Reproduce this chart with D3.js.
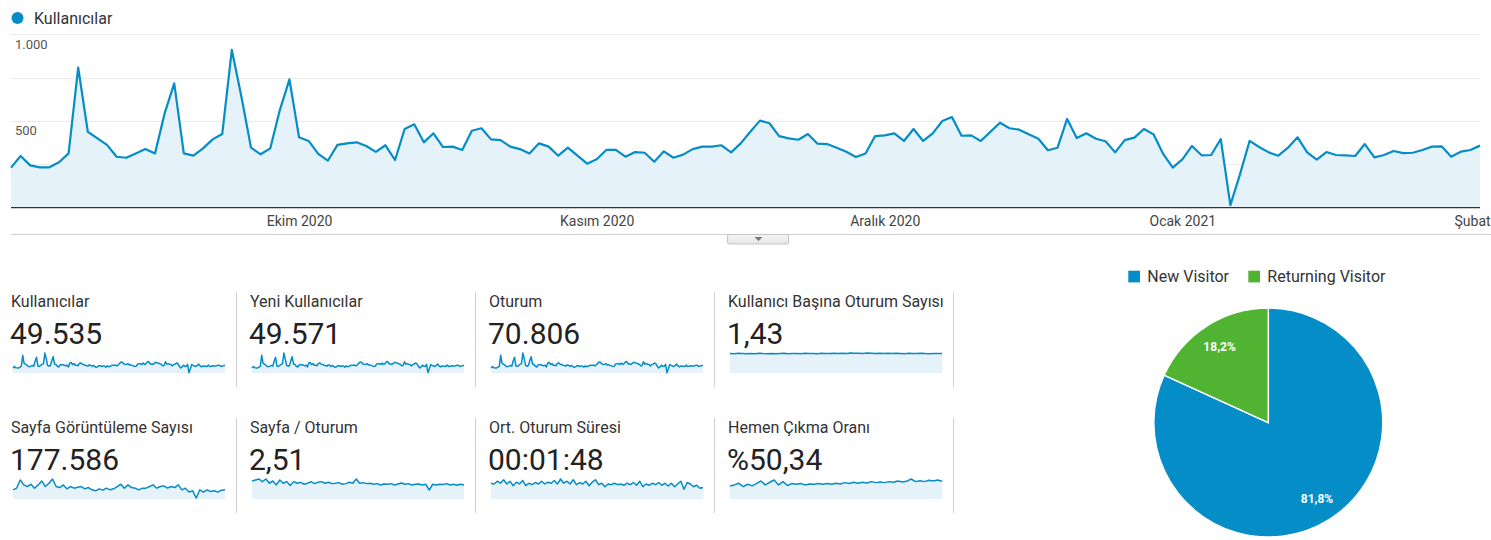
<!DOCTYPE html>
<html>
<head>
<meta charset="utf-8">
<script src="https://cdn.jsdelivr.net/npm/d3@7"></script>
<style>
  html, body { margin: 0; padding: 0; background: #fff; overflow: hidden; }
  svg { display: block; font-family: Roboto, Arial, sans-serif; }
</style>
</head>
<body>
<svg id="chart" width="1491" height="540"></svg>
<script>
// ---------------- DATA ----------------
const seriesName = "Kullanıcılar";
const startDate = "2020-09-01";
const users = [
  231, 298, 244, 233, 233, 262, 313, 808, 438, 400,
  362, 294, 288, 313, 338, 313, 544, 717, 313, 300,
  342, 394, 425, 910, 640, 346, 308, 342, 563, 740,
  406, 385, 310, 271, 362, 371, 377, 356, 322, 360,
  275, 454, 481, 377, 429, 350, 352, 333, 444, 458,
  394, 390, 352, 338, 312, 371, 352, 300, 346, 300,
  254, 279, 333, 333, 294, 321, 317, 265, 325, 288,
  306, 338, 352, 352, 360, 319, 371, 438, 502, 487,
  413, 400, 392, 425, 369, 367, 346, 323, 292, 313,
  413, 417, 429, 385, 454, 385, 429, 500, 523, 415,
  417, 385, 437, 490, 458, 450, 423, 398, 331, 346,
  512, 402, 429, 398, 383, 319, 390, 404, 454, 423,
  310, 231, 279, 356, 302, 304, 396, 15, 192, 385,
  350, 319, 300, 346, 406, 319, 277, 321, 304, 302,
  298, 367, 290, 304, 327, 315, 317, 333, 352, 354,
  294, 323, 333, 358
];
const monthTickDates = ["2020-10-01", "2020-11-01", "2020-12-01", "2021-01-01", "2021-02-01"];
const monthTickLabels = ["Ekim 2020", "Kasım 2020", "Aralık 2020", "Ocak 2021", "Şubat 2021"];
const yGridValues = [0, 250, 500, 750, 1000];
const yLabelValues = [500, 1000];
const yDomainMax = 1000;

const metricTitles = [
  "Kullanıcılar", "Yeni Kullanıcılar", "Oturum", "Kullanıcı Başına Oturum Sayısı",
  "Sayfa Görüntüleme Sayısı", "Sayfa / Oturum", "Ort. Oturum Süresi", "Hemen Çıkma Oranı"
];
const metricValues = ["49.535", "49.571", "70.806", "1,43", "177.586", "2,51", "00:01:48", "%50,34"];

// sparkline series
const sparkNewUsers = users;   // same shape as users in the picture
const sparkSessions = users;   // same shape as users in the picture
const sparkSessionsPerUser = [1.44,1.42,1.45,1.43,1.41,1.44,1.42,1.46,1.43,1.42,1.44,1.41,1.43,1.45,1.42,1.44,1.43,1.42,1.45,1.43,1.44,1.42,1.45,1.44,1.43,1.46,1.44,1.45,1.43,1.47,1.45,1.46,1.44,1.47,1.45,1.43,1.46,1.44,1.45,1.43,1.46,1.44,1.42,1.45,1.43,1.44,1.46,1.43,1.42,1.44,1.43,1.44];
const sparkPageviews = [980,1155,2030,1505,1330,1575,1155,1505,1925,1330,1680,2135,1330,1225,1505,1085,1330,1155,1260,1330,1085,1225,980,875,1085,945,1155,980,1085,1330,1575,1155,1505,1225,1155,980,1155,1155,1330,1505,1155,1330,1400,1155,1330,1225,1505,980,1155,735,875,105,980,735,980,805,875,735,945,980];
const sparkPagesPerSession = [2.88,3.04,3.20,2.78,3.20,2.52,2.88,2.25,3.04,2.52,2.78,2.15,2.78,2.52,2.67,2.36,2.52,2.78,2.46,2.67,2.78,2.52,2.67,2.46,2.52,2.62,2.36,2.46,2.67,2.52,3.20,2.52,2.62,2.46,2.52,2.36,2.46,2.25,2.41,2.36,2.46,2.25,2.41,2.57,2.36,2.46,2.25,2.36,2.41,2.25,2.36,1.41,2.36,2.25,2.36,2.31,2.46,2.25,2.36,2.20,2.36,2.25];
const sparkAvgDuration = [108,103,122,108,132,103,122,91,115,103,127,91,108,98,113,103,122,103,115,108,127,103,137,108,122,103,132,98,113,103,122,91,115,132,98,108,84,103,98,108,98,103,94,108,98,113,94,122,84,103,94,108,98,113,94,108,89,108,84,103,122,67,113,103,84,94,74,79];
const sparkBounceRate = [42.0,45.2,50.4,39.9,47.3,42.0,49.4,57.8,45.2,53.6,60.9,45.2,55.7,43.1,49.4,47.3,49.4,45.2,48.3,47.3,49.4,47.3,49.4,47.3,50.4,48.3,52.5,49.4,53.6,50.4,53.6,51.5,55.7,52.5,54.6,52.5,55.7,53.6,57.8,54.6,56.7,64.1,55.7,58.8,55.7,59.9,57.8,60.9,56.7];

const pieLabels = ["New Visitor", "Returning Visitor"];
const pieValues = [81.8, 18.2];
const pieValueLabels = ["81,8%", "18,2%"];

// ---------------- STYLE ----------------
const BLUE = "#058dc7", GREEN = "#50b432", FILL = "#e6f2f9";
const trLocale = d3.formatLocale({decimal: ",", thousands: ".", grouping: [3], currency: ["₺", ""]});
const fmt = trLocale.format(",d");

const svg = d3.select("#chart");

// ---------------- MAIN CHART ----------------
const parse = d3.timeParse("%Y-%m-%d");
const d0 = parse(startDate);
const data = users.map((v, i) => ({date: d3.timeDay.offset(d0, i), value: v}));

const x = d3.scaleTime().domain(d3.extent(data, d => d.date)).range([11, 1480]);
const y = d3.scaleLinear().domain([0, yDomainMax]).range([207.7, 34.3]);

// legend
svg.append("circle").attr("cx", 17.5).attr("cy", 18).attr("r", 6).attr("fill", BLUE);
svg.append("text").attr("x", 34).attr("y", 23.5).attr("font-size", 16).attr("fill", "#333").text(seriesName);

// gridlines
svg.append("g").selectAll("line").data(yGridValues.filter(v => v > 0)).join("line")
  .attr("x1", 11).attr("x2", 1480)
  .attr("y1", d => Math.round(y(d)) + 0.5).attr("y2", d => Math.round(y(d)) + 0.5)
  .attr("stroke", "#ebebeb").attr("stroke-width", 1);

// area + line
svg.append("path").datum(data)
  .attr("d", d3.area().x(d => x(d.date)).y0(y(0)).y1(d => y(d.value)))
  .attr("fill", FILL);
svg.append("path").datum(data)
  .attr("d", d3.line().x(d => x(d.date)).y(d => y(d.value)))
  .attr("fill", "none").attr("stroke", BLUE).attr("stroke-width", 2.2).attr("stroke-linejoin", "round");

// y labels (inside plot)
svg.append("g").selectAll("text").data(yLabelValues).join("text")
  .attr("x", 15).attr("y", d => y(d) + 14.3)
  .attr("font-size", 13).attr("fill", "#555").text(d => fmt(d));

// baseline
svg.append("line").attr("x1", 11).attr("x2", 1480).attr("y1", y(0)).attr("y2", y(0))
  .attr("stroke", "#333").attr("stroke-width", 1.3);

// x axis month labels
const xAxis = d3.axisBottom(x)
  .tickValues(monthTickDates.map(parse))
  .tickFormat((d, i) => monthTickLabels[i])
  .tickSize(0).tickPadding(0);
const gx = svg.append("g").attr("transform", `translate(0,${y(0) + 8})`).call(xAxis);
gx.select(".domain").remove();
gx.selectAll("text").attr("font-size", 14).attr("fill", "#444")
  .attr("font-family", "Roboto, Arial, sans-serif").attr("dy", "0.71em");
// last label sits at the right edge, as in the original
gx.selectAll(".tick").filter((d, i) => i === monthTickDates.length - 1).select("text")
  .attr("text-anchor", "start").attr("dx", -26);

// collapse bar
svg.append("line").attr("x1", 11).attr("x2", 1491).attr("y1", 234.5).attr("y2", 234.5)
  .attr("stroke", "#cfcfcf").attr("stroke-width", 1);
const defs = svg.append("defs");
const grad = defs.append("linearGradient").attr("id", "btn").attr("x1", 0).attr("x2", 0).attr("y1", 0).attr("y2", 1);
grad.append("stop").attr("offset", "0%").attr("stop-color", "#f6f6f6");
grad.append("stop").attr("offset", "100%").attr("stop-color", "#e4e4e4");
svg.append("rect").attr("x", 727.5).attr("y", 234.5).attr("width", 61).attr("height", 9.5)
  .attr("rx", 1.5).attr("fill", "url(#btn)").attr("stroke", "#c6c6c6");
svg.append("path").attr("d", "M754.5,237 L762.5,237 L758.5,241 Z").attr("fill", "#777");

// ---------------- SCORECARDS ----------------
const sparkSeries = [users, sparkNewUsers, sparkSessions, sparkSessionsPerUser,
                     sparkPageviews, sparkPagesPerSession, sparkAvgDuration, sparkBounceRate];

metricTitles.forEach((title, k) => {
  const col = k % 4, row = Math.floor(k / 4);
  const left = 11 + 239 * col;
  const top = row * 126;
  const g = svg.append("g");
  g.append("text").attr("x", left).attr("y", 306.7 + top).attr("font-size", 16).attr("fill", "#333").text(title);
  g.append("text").attr("x", left - 1).attr("y", 344.3 + top).attr("font-size", 30).attr("fill", "#222").text(metricValues[k]);

  const s = sparkSeries[k];
  const sx = d3.scaleLinear().domain([0, s.length - 1]).range([left + 2, left + 214]);
  const sy = d3.scaleLinear().domain([0, d3.max(s)]).range([373 + top, 353 + top]);
  g.append("path").datum(s)
    .attr("d", d3.area().x((d, i) => sx(i)).y0(sy(0)).y1(d => sy(d)))
    .attr("fill", FILL);
  g.append("path").datum(s)
    .attr("d", d3.line().x((d, i) => sx(i)).y(d => sy(d)))
    .attr("fill", "none").attr("stroke", BLUE).attr("stroke-width", 1.5).attr("stroke-linejoin", "round");

  // separator
  g.append("line").attr("x1", left + 225.5).attr("x2", left + 225.5)
    .attr("y1", 292 + top).attr("y2", 387 + top)
    .attr("stroke", "#cfcfcf").attr("stroke-width", 1);
});

// ---------------- PIE ----------------
const cx = 1268.3, cy = 422.6, R = 114.5;
const pie = d3.pie().sort(null).value(d => d)(pieValues);
const arc = d3.arc().innerRadius(0).outerRadius(R);
const labelArc = d3.arc().innerRadius(90).outerRadius(90);
const pg = svg.append("g").attr("transform", `translate(${cx},${cy})`);
const colors = [BLUE, GREEN];
pg.selectAll("path").data(pie).join("path")
  .attr("d", arc).attr("fill", (d, i) => colors[i])
  .attr("stroke", "#fff").attr("stroke-width", 1.5);
pg.selectAll("text").data(pie).join("text")
  .attr("transform", d => `translate(${labelArc.centroid(d)})`)
  .attr("text-anchor", "middle").attr("dy", "0.36em")
  .attr("font-size", 12).attr("font-weight", "bold").attr("fill", "#fff")
  .text((d, i) => pieValueLabels[i]);

// pie legend
const legX = [1128.3, 1248.3];
const lg = svg.append("g");
pieLabels.forEach((lab, i) => {
  lg.append("rect").attr("x", legX[i]).attr("y", 270.7).attr("width", 11.7).attr("height", 11.7).attr("fill", colors[i]);
  lg.append("text").attr("x", legX[i] + 19).attr("y", 282.3).attr("font-size", 16).attr("fill", "#333").text(lab);
});
</script>
</body>
</html>
